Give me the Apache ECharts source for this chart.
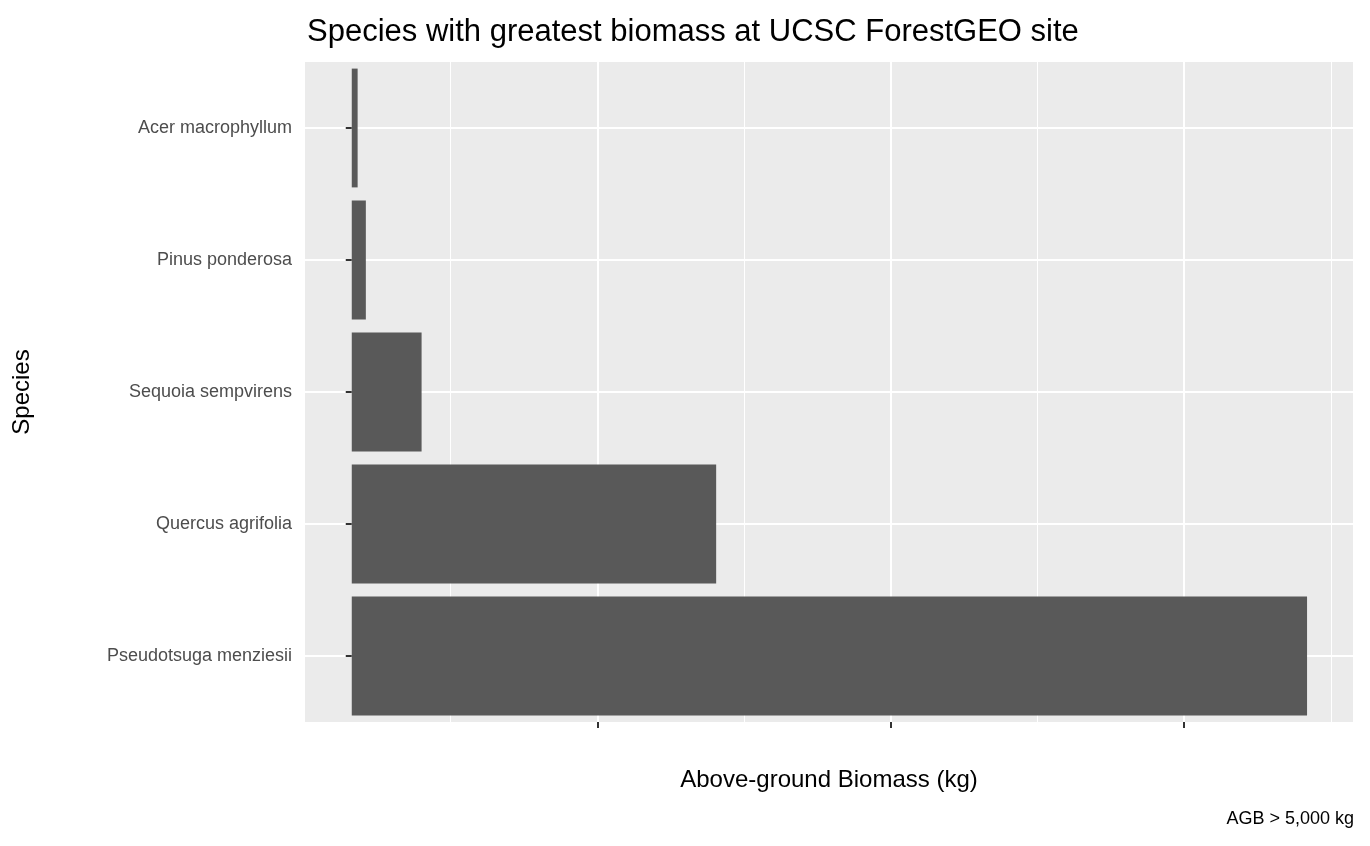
<!DOCTYPE html>
<html><head><meta charset="utf-8">
<script src="https://cdn.jsdelivr.net/npm/echarts@6/dist/echarts.min.js"></script>
<style>html,body{margin:0;background:#fff}#c{width:1370px;height:846px}</style>
</head><body><div id="c"></div>
<script>
var species = ['Pseudotsuga menziesii', 'Quercus agrifolia', 'Sequoia sempvirens', 'Pinus ponderosa', 'Acer macrophyllum'];
var biomass = [1628000, 621000, 119000, 24000, 10000];

var myChart = echarts.init(document.getElementById('c'));
var font = 'Liberation Sans, Arial, sans-serif';
var option = {
    animation: false,
    title: {
        text: 'Species with greatest biomass at UCSC ForestGEO site',
        left: 302, top: 12,
        textStyle: {fontFamily: font, fontSize: 31, fontWeight: 'normal', color: '#000'}
    },
    graphic: [{
        type: 'text', right: 16, top: 810,
        style: {text: 'AGB > 5,000 kg', font: '18px ' + font, fill: '#000'}
    }],
    grid: {left: 304, right: 16, top: 62, bottom: 124, show: true, backgroundColor: '#ebebeb', borderWidth: 0},
    xAxis: {
        type: 'value', min: -81400, max: 1708000,
        name: 'Above-ground Biomass (kg)', nameLocation: 'middle', nameGap: 46,
        nameTextStyle: {fontFamily: font, fontSize: 24, color: '#000'},
        axisLine: {show: false},
        axisTick: {show: true, length: 6, lineStyle: {color: '#333', width: 2}},
        axisLabel: {fontFamily: font, fontSize: 18, color: '#4d4d4d', margin: 12, showMinLabel: false, showMaxLabel: false,
            formatter: function (v) { return v % 500000 === 0 ? String(v) : ''; }},
        splitNumber: 4,
        interval: 500000,
        splitLine: {show: true, lineStyle: {color: '#fff', width: 2}},
        minorTick: {show: false, splitNumber: 2},
        minorSplitLine: {show: true, lineStyle: {color: '#fff', width: 1}}
    },
    yAxis: {
        type: 'category', data: species,
        name: 'Species', nameLocation: 'middle', nameGap: 270, nameRotate: 90,
        nameTextStyle: {fontFamily: font, fontSize: 24, color: '#000'},
        axisLine: {show: false},
        axisTick: {show: true, alignWithLabel: true, length: 6, lineStyle: {color: '#333', width: 2}},
        axisLabel: {fontFamily: font, fontSize: 18, color: '#4d4d4d', margin: 12},
        splitLine: {show: true, alignWithLabel: true, lineStyle: {color: '#fff', width: 2}}
    },
    series: [{
        type: 'bar', data: biomass, barCategoryGap: '10%',
        itemStyle: {color: '#595959'}
    }]
};
myChart.setOption(option);
</script></body></html>
